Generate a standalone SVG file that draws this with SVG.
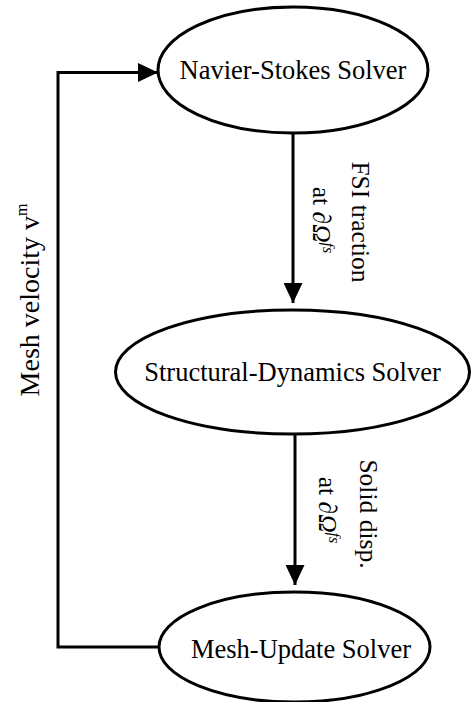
<svg xmlns="http://www.w3.org/2000/svg" width="471" height="702" viewBox="0 0 471 702">
<defs>
<style>
.node ellipse{fill:#fff;stroke:#000;stroke-width:3}
.t{font-family:"Liberation Serif","Times New Roman",serif;font-size:26.5px;fill:#000}
.lbl{font-family:"Liberation Serif","Times New Roman",serif;font-size:25.5px;fill:#000}
.big{font-size:28px}
.it{font-style:italic}
.sup{font-size:16px}
.conn path{fill:none;stroke:#000;stroke-width:3}
</style>
<marker id="ah" markerWidth="20" markerHeight="19" refX="20" refY="9.5" orient="auto" markerUnits="userSpaceOnUse">
<path d="M0,0 L20,9.5 L0,19 Z" fill="#000"/>
</marker>
</defs>
<rect width="471" height="702" fill="#fff"/>
<g id="connectors" class="conn">
<path d="M293,133 L293,303" marker-end="url(#ah)"/>
<path d="M295,434 L295,585" marker-end="url(#ah)"/>
<path d="M159,647 L58,647 L58,72.5 L158,72.5" marker-end="url(#ah)"/>
</g>
<g id="n1" class="node">
<ellipse cx="293" cy="70" rx="135" ry="63"/>
<text class="t" x="293" y="79" text-anchor="middle">Navier-Stokes Solver</text>
</g>
<g id="n2" class="node">
<ellipse cx="292.5" cy="372" rx="177" ry="62"/>
<text class="t" x="292.5" y="381" text-anchor="middle">Structural-Dynamics Solver</text>
</g>
<g id="n3" class="node">
<ellipse cx="294.5" cy="647" rx="135.5" ry="55"/>
<text class="t" x="301" y="658" text-anchor="middle">Mesh-Update Solver</text>
</g>
<g id="labels">
<text class="lbl" transform="translate(352,222) rotate(90)" text-anchor="middle">FSI traction</text>
<text class="lbl" transform="translate(313,220) rotate(90)" text-anchor="middle">at <tspan class="it">∂Ω</tspan><tspan class="it sup" dy="-10">fs</tspan></text>
<text class="lbl" transform="translate(360,514) rotate(90)" text-anchor="middle">Solid disp.</text>
<text class="lbl" transform="translate(319,510) rotate(90)" text-anchor="middle">at <tspan class="it">∂Ω</tspan><tspan class="it sup" dy="-10">fs</tspan></text>
<text class="t big" transform="translate(39,300) rotate(-90)" text-anchor="middle">Mesh velocity v<tspan class="sup" dy="-12">m</tspan></text>
</g>
</svg>
